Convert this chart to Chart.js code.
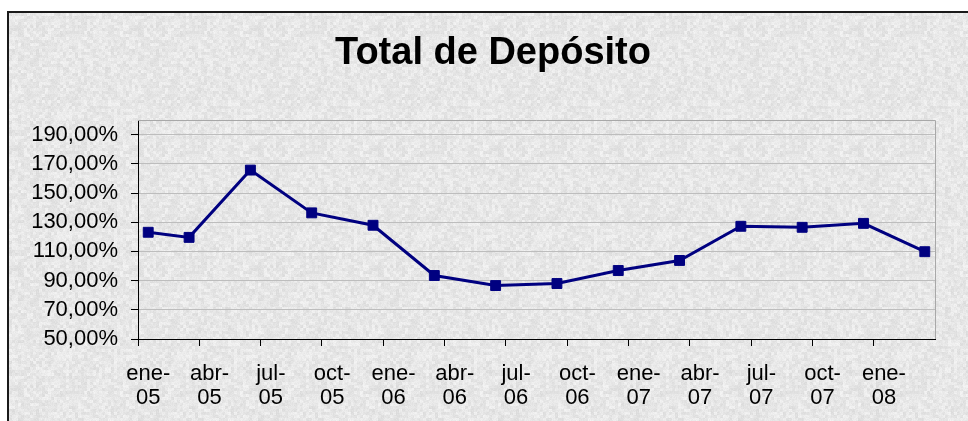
<!DOCTYPE html>
<html>
<head>
<meta charset="utf-8">
<script src="https://cdn.jsdelivr.net/npm/chart.js@4.4.1/dist/chart.umd.min.js"></script>
<style>
  html, body { margin: 0; padding: 0; background: #fff; }
  #wrap { position: relative; width: 968px; height: 421px; overflow: hidden; }
  #box {
    position: absolute; left: 7px; top: 11px; width: 990px; height: 440px;
    border-left: 2px solid #1a1a1a; border-top: 2px solid #1a1a1a;
    background-color: #e6e6e6;
  }
  #chart { position: absolute; left: 0; top: 0; }
</style>
</head>
<body>
<div id="wrap">
  <div id="box"></div>
  <canvas id="chart" width="968" height="421"></canvas>
</div>
<script>
// month names / years used for the date axis (one slot per month)
const monthNames = ['ene', 'feb', 'mar', 'abr', 'may', 'jun', 'jul', 'ago', 'sep', 'oct', 'nov', 'dic'];
const years = ['05', '06', '07', '08'];
const lastMonth = 'mar-08';

// quarterly points of the series
const pointDates = ['ene-05', 'mar-05', 'jun-05', 'sep-05', 'dic-05', 'mar-06', 'jun-06',
                    'sep-06', 'dic-06', 'mar-07', 'jun-07', 'sep-07', 'dic-07', 'mar-08'];
const depositos = [123.1, 119.6, 165.7, 136.4, 127.9, 93.5, 86.6,
                   88.0, 96.9, 103.8, 127.2, 126.5, 129.2, 109.8];

const yTicks = [50, 70, 90, 110, 130, 150, 170, 190];
const yMin = 50;
const yMax = 200;

// build the monthly categories
const months = [];
for (const y of years) {
    for (const m of monthNames) {
        if (months.length && months[months.length - 1] === lastMonth) break;
        months.push(m + '-' + y);
    }
}

// soft speckled background, like the excel texture (deterministic hash, only decoration)
function hash(x, y) {
    let n = Math.imul(x, 374761393) + Math.imul(y, 668265263);
    n = Math.imul(n ^ (n >>> 13), 1274126177);
    n = n ^ (n >>> 16);
    return (n >>> 0) / 4294967295;
}
function makeTexture() {
    const size = 120;
    const c = document.createElement('canvas');
    c.width = c.height = size;
    const g = c.getContext('2d');
    const img = g.createImageData(size, size);
    for (let y = 0; y < size; y++) {
        for (let x = 0; x < size; x++) {
            const coarse = hash(Math.floor(x / 3), Math.floor(y / 3));
            const fine = hash(x + 1000, y + 1000);
            const v = Math.round(231 + (coarse - 0.5) * 18 + (fine - 0.5) * 10);
            const i = (y * size + x) * 4;
            img.data[i] = img.data[i + 1] = img.data[i + 2] = v;
            img.data[i + 3] = 255;
        }
    }
    g.putImageData(img, 0, 0);
    return c.toDataURL();
}
document.getElementById('box').style.backgroundImage = 'url(' + makeTexture() + ')';

// grey frame on top and right of the plot area
const plotFrame = {
    id: 'plotFrame',
    afterLayout(chart) {
        // excel centres the title a bit left of the plot area
        if (chart.titleBlock) chart.titleBlock.left += 44;
    },
    beforeDatasetsDraw(chart) {
        const { ctx, chartArea: a } = chart;
        ctx.save();
        ctx.strokeStyle = '#a8a8a8';
        ctx.lineWidth = 1;
        ctx.beginPath();
        ctx.moveTo(a.left, Math.round(a.top) + 0.5);
        ctx.lineTo(Math.round(a.right) + 0.5, Math.round(a.top) + 0.5);
        ctx.lineTo(Math.round(a.right) + 0.5, a.bottom);
        ctx.stroke();
        ctx.restore();
    }
};

const ctx = document.getElementById('chart').getContext('2d');
new Chart(ctx, {
    type: 'line',
    data: {
        labels: months,
        datasets: [{
            label: 'Total de Depósito',
            data: pointDates.map((d, i) => ({ x: d, y: depositos[i] })),
            borderColor: '#000080',
            backgroundColor: '#000080',
            borderWidth: 3,
            pointStyle: 'rect',
            pointRadius: 7,
            pointBorderWidth: 1,
            pointBackgroundColor: '#000080',
            pointBorderColor: '#000080',
            tension: 0,
            fill: false
        }]
    },
    options: {
        responsive: false,
        animation: false,
        layout: { padding: { left: 7, right: 33, top: 0, bottom: 0 } },
        plugins: {
            legend: { display: false },
            tooltip: { enabled: false },
            title: {
                display: true,
                text: 'Total de Depósito',
                color: '#000',
                font: { family: 'Liberation Sans, Arial, sans-serif', size: 38, weight: 'bold' },
                padding: { top: 31, bottom: 43.4 }
            }
        },
        scales: {
            x: {
                type: 'category',
                offset: true,
                grid: {
                    offset: true,
                    drawOnChartArea: false,
                    tickLength: 7,
                    tickColor: c => (c.index % 3 === 0 ? '#000' : 'rgba(0,0,0,0)')
                },
                border: { color: '#000', width: 1 },
                ticks: {
                    autoSkip: false,
                    maxRotation: 0,
                    minRotation: 0,
                    padding: 16,
                    color: '#000',
                    font: { family: 'Liberation Sans, Arial, sans-serif', size: 22, lineHeight: 1.1 },
                    callback: function (val, i) {
                        if (i % 3 !== 0) return '';
                        const parts = months[i].split('-');
                        return [parts[0] + '-', parts[1]];
                    }
                },
                afterFit: s => { s.height = 82; }
            },
            y: {
                min: yMin,
                max: yMax,
                afterBuildTicks: axis => { axis.ticks = yTicks.map(v => ({ value: v })); },
                grid: { color: '#bdbdbd', tickColor: '#000', tickLength: 7 },
                border: { color: '#000', width: 1 },
                ticks: {
                    padding: 13,
                    color: '#000',
                    font: { family: 'Liberation Sans, Arial, sans-serif', size: 22 },
                    callback: v => v.toFixed(2).replace('.', ',') + '%'
                },
                afterFit: s => { s.width = 131; }
            }
        }
    },
    plugins: [plotFrame]
});
</script>
</body>
</html>
